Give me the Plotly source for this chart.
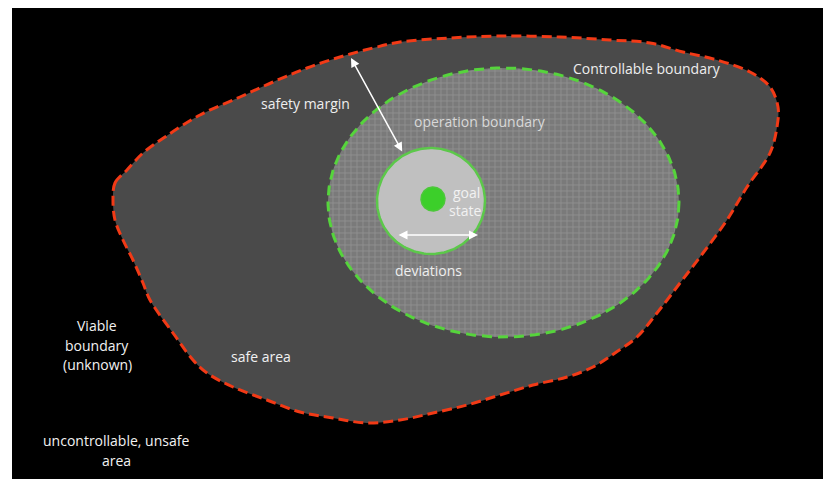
import numpy as np
import plotly.graph_objects as go

# Outer "controllable boundary" outline (pixel-space coordinates)
outer_x = [113, 115, 127, 143, 165, 200, 240, 273, 307, 340, 373, 400, 450, 500, 560, 610, 650, 683, 717, 750,
           770, 778, 777, 770, 747, 727, 703, 680, 657, 637, 615, 593, 567, 533, 500, 467, 433, 400, 367,
           333, 300, 267, 233, 207, 193, 173, 150, 143, 133, 123, 115, 113]
outer_y = [200, 183, 170, 153, 137, 115, 97, 82, 68, 57, 48, 42, 38, 36, 37, 40, 43, 52, 60, 72,
           87, 107, 127, 153, 187, 220, 253, 283, 313, 337, 353, 367, 377, 385, 395, 405, 413, 420, 423,
           418, 412, 400, 387, 373, 360, 333, 300, 283, 260, 240, 220, 200]

# Operation boundary ellipse (center, radii)
op_center = (503.5, 202.5)
op_radii = (175.5, 134.5)

# Deviation circle and goal state
dev_center = (431, 201)
dev_radii = (54, 53)
goal_center = (433, 199)
goal_radius = 12

# Arrows: (x_tail, y_tail, x_head, y_head)
safety_arrow = (403, 153, 351, 58)
deviation_arrow = (397, 235, 478, 235)

# Labels
label_text = ["safety margin", "Controllable boundary", "operation boundary", "goal", "state",
              "deviations", "Viable", "boundary", "(unknown)", "safe area",
              "uncontrollable, unsafe", "area"]
label_x = [305, 647, 480, 466, 465, 428, 97, 97, 97, 261, 116, 116]
label_y = [103, 68, 121, 192, 210, 270, 325, 345, 364, 356, 440, 460]
label_color = ["#eeeeee", "#eeeeee", "#d8d8d8", "#f2f2f2", "#f2f2f2", "#eeeeee", "#f2f2f2", "#f2f2f2",
               "#f2f2f2", "#f2f2f2", "#f2f2f2", "#f2f2f2"]


def ellipse(center, radii, n=200):
    t = np.linspace(0, 2 * np.pi, n)
    return center[0] + radii[0] * np.cos(t), center[1] + radii[1] * np.sin(t)


fig = go.Figure()

fig.add_trace(go.Scatter(
    x=outer_x, y=outer_y, mode="lines", fill="toself", fillcolor="#4a4a4a",
    line=dict(color="#f23a16", width=3, dash="10px,5px", shape="spline", smoothing=1.0),
    hoverinfo="skip", showlegend=False))

ex, ey = ellipse(op_center, op_radii)
fig.add_trace(go.Scatter(
    x=ex, y=ey, mode="lines", fill="toself", fillcolor="#7e7e7e",
    fillpattern=dict(shape="+", bgcolor="#7a7a7a", fgcolor="#b4b4b4", size=6, solidity=0.2),
    line=dict(color="#56d43c", width=3, dash="10px,6px"),
    hoverinfo="skip", showlegend=False))

dx, dy = ellipse(dev_center, dev_radii)
fig.add_trace(go.Scatter(
    x=dx, y=dy, mode="lines", fill="toself", fillcolor="#c0c0c0",
    line=dict(color="#5cc84a", width=2.5),
    hoverinfo="skip", showlegend=False))

gx, gy = ellipse(goal_center, (goal_radius, goal_radius))
fig.add_trace(go.Scatter(
    x=gx, y=gy, mode="lines", fill="toself", fillcolor="#3ccf2a",
    line=dict(color="#4cc83a", width=1.5),
    hoverinfo="skip", showlegend=False))

for arr in (safety_arrow, deviation_arrow):
    fig.add_annotation(x=arr[2], y=arr[3], ax=arr[0], ay=arr[1], xref="x", yref="y",
                       axref="x", ayref="y", text="", showarrow=True, arrowhead=2,
                       arrowside="end+start", arrowsize=1.2, arrowwidth=1.5, arrowcolor="#ffffff")

for t, x, y, c in zip(label_text, label_x, label_y, label_color):
    fig.add_annotation(x=x, y=y, xref="x", yref="y", text=t, showarrow=False,
                       font=dict(family="Open Sans", size=14, color=c))

fig.update_xaxes(range=[12, 831], visible=False, showgrid=False, zeroline=False)
fig.update_yaxes(range=[479, 8], visible=False, showgrid=False, zeroline=False)
# The page body adds an 8px offset, so the figure is sized to end at the window edge.
fig.update_layout(width=823, height=471, margin=dict(l=4, r=0, t=0, b=0),
                  paper_bgcolor="#ffffff", plot_bgcolor="#000000")

fig.write_html("out.html")
